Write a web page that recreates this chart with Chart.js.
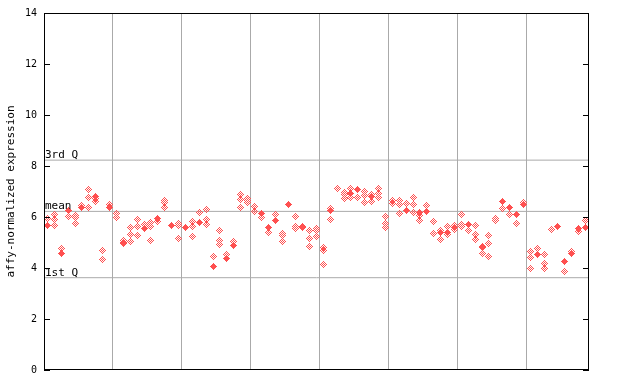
<!DOCTYPE html>
<html><head><meta charset="utf-8">
<script src="https://cdn.jsdelivr.net/npm/chart.js@4"></script>
<style>html,body{margin:0;padding:0;background:#fff}</style>
</head><body>
<canvas id="c" width="640" height="384"></canvas>
<script>
// Column index 0..78 (samples), grouped in blocks of 10 separated by grid lines
const hollowValues = [
 [5.93],[6.11,5.90,5.68],[4.76],[6.02],[6.06,5.98,5.76],[6.47],[7.09,6.77,6.39],[6.72,6.59],[4.68,4.34],[6.49],
 [6.14,5.98],[5.09,4.96],[5.59,5.32,5.05],[5.90,5.63,5.27],[5.72],[5.80,5.63,5.09],[5.84],[6.66,6.58,6.38],[],[5.76,5.67,5.15],
 [],[5.82,5.61,5.23],[6.19],[6.30,5.90,5.69],[4.46],[5.48,5.09,4.93],[4.52],[5.05],[6.90,6.69,6.38],[6.73,6.66,6.57],
 [6.43,6.22],[5.98],[5.40],[6.11],[5.35,5.26,5.05],[],[6.02,5.61,5.53],[5.64],[5.48,5.17,4.84],[5.55,5.48,5.24],
 [4.82,4.69,4.14],[6.34,5.90],[7.10],[6.95,6.90,6.72],[7.12,6.77],[6.78],[6.99,6.86,6.55],[6.90,6.60],[7.10,6.93,6.77],[6.02,5.75,5.59],
 [6.64,6.51],[6.64,6.48,6.14],[6.53],[6.77,6.49,6.19],[6.05,5.86],[6.44],[5.82,5.35],[5.48,5.11],[5.61,5.32],[5.68,5.51],
 [6.10,5.72,5.63],[5.48],[5.67,5.31,5.11],[4.85,4.56],[5.27,4.96,4.44],[5.93,5.85],[6.34],[6.11],[5.75],[6.57],
 [4.65,4.40,3.98],[4.76],[4.52,4.17,3.97],[5.51],[],[3.85],[4.63],[5.45],[5.86]
];
const filledValues = [
 [5.65],[],[4.55],[6.24],[],[6.36],[],[6.80],[],[6.36],
 [],[5.01],[],[],[5.56],[],[5.93],[],[5.68],[],
 [5.60],[],[5.78],[],[4.07],[],[4.39],[4.90],[],[],
 [],[6.14],[5.57],[5.88],[],[6.48],[],[5.57],[],[],
 [],[6.24],[],[],[6.93],[7.07],[],[6.82],[],[],
 [],[],[6.27],[],[6.19],[6.23],[],[5.40],[5.41],[5.57],
 [],[5.69],[],[4.80],[],[],[6.59],[6.36],[6.11],[6.48],
 [],[4.51],[],[],[5.63],[4.27],[4.56],[5.53],[5.57]
];
const groupBoundaries = [9.5,19.5,29.5,39.5,49.5,59.5,69.5];
const quartiles = {q3: 8.23, mean: 6.22, q1: 3.62};
const quartileLabels = [['3rd Q', quartiles.q3], ['mean', quartiles.mean], ['1st Q', quartiles.q1]];
const yTicks = [0,2,4,6,8,10,12,14];
const xMin = -0.5, xMax = 78.5;

const RED = '#ff5050';
function makeMarker(hollow){
  const cv = document.createElement('canvas'); cv.width = 7; cv.height = 7;
  const g = cv.getContext('2d'); g.fillStyle = RED;
  for(let dy=-3; dy<=3; dy++) for(let dx=-3; dx<=3; dx++){
    const d = Math.abs(dx)+Math.abs(dy);
    if(d>3) continue;
    if(hollow && ((dx+dy)%2===0)) continue;
    g.fillRect(dx+3, dy+3, 1, 1);
  }
  return cv;
}
function toPoints(arr){
  const pts=[]; arr.forEach((vals,i)=>vals.forEach(v=>pts.push({x:i,y:v}))); return pts;
}
const FONT = {family:'DejaVu Sans Mono', size:11};

const snapPlugin = {
  id:'snap',
  afterDatasetsUpdate(chart){
    chart.data.datasets.forEach((ds,i)=>{
      if(ds.type==='line') return;
      chart.getDatasetMeta(i).data.forEach(el=>{
        el.x = Math.floor(el.x)+0.5; el.y = Math.floor(el.y)+0.5;
      });
    });
  }
};

const boxPlugin = {
  id:'box',
  afterDatasetsDraw(chart){
    const {ctx, chartArea:a, scales:{y}} = chart;
    ctx.save();
    ctx.strokeStyle='#000'; ctx.lineWidth=1;
    ctx.strokeRect(a.left+0.5, a.top+0.5, a.right-a.left-1, a.bottom-a.top-1);
    ctx.beginPath();
    yTicks.forEach(t=>{
      const py = Math.round(y.getPixelForValue(t))+0.5;
      ctx.moveTo(a.left, py); ctx.lineTo(a.left+6, py);
      ctx.moveTo(a.right-6, py); ctx.lineTo(a.right, py);
    });
    ctx.stroke();
    ctx.fillStyle='#000'; ctx.font = FONT.size+'px '+FONT.family;
    ctx.textAlign='left'; ctx.textBaseline='bottom';
    quartileLabels.forEach(([t,v])=>{
      ctx.fillText(t, a.left+1, Math.round(y.getPixelForValue(v))+1);
    });
    ctx.restore();
  }
};

const lineDs = v => ({type:'line', data:[{x:xMin,y:v},{x:xMax,y:v}], borderColor:'#aaaaaa', borderWidth:1, pointRadius:0, order:3});

new Chart(document.getElementById('c'), {
  type:'scatter',
  data:{datasets:[
    lineDs(quartiles.q3), lineDs(quartiles.mean), lineDs(quartiles.q1),
    {data:toPoints(hollowValues), pointStyle:makeMarker(true), order:2},
    {data:toPoints(filledValues), pointStyle:makeMarker(false), order:1}
  ]},
  options:{
    responsive:false, animation:false, devicePixelRatio:1,
    layout:{padding:{left:0,right:51,top:13,bottom:14}},
    plugins:{legend:{display:false}, tooltip:{enabled:false}},
    scales:{
      x:{type:'linear', min:xMin, max:xMax,
         ticks:{display:false}, border:{display:false},
         grid:{color:'#aaaaaa', drawTicks:false, lineWidth:1},
         afterBuildTicks:s=>{s.ticks = groupBoundaries.map(v=>({value:v}));},
         afterFit:s=>{s.height=0;}},
      y:{min:0, max:14, border:{display:false}, grid:{display:false, drawTicks:false},
         afterBuildTicks:s=>{s.ticks = yTicks.map(v=>({value:v}));},
         ticks:{color:'#000', font:{family:'DejaVu Sans Mono', size:10}, padding:7},
         title:{display:true, text:'affy-normalized expression', color:'#000', font:FONT, padding:{top:5,bottom:0}},
         afterFit:s=>{s.width=44;}}
    }
  },
  plugins:[snapPlugin, boxPlugin]
});
</script>
</body></html>
